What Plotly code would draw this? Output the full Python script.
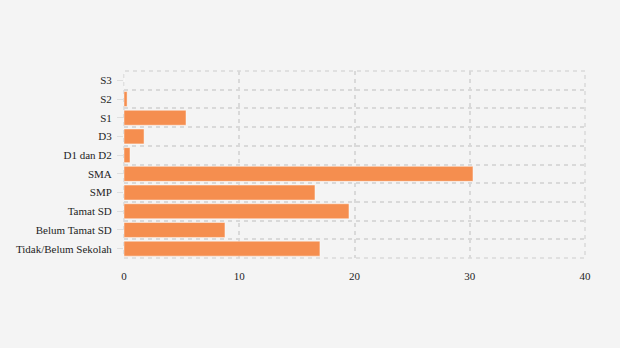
import plotly.graph_objects as go

# Education level categories, listed bottom to top
categories = [
    "Tidak/Belum Sekolah",
    "Belum Tamat SD",
    "Tamat SD",
    "SMP",
    "SMA",
    "D1 dan D2",
    "D3",
    "S1",
    "S2",
    "S3",
]
values = [17.0, 8.76, 19.52, 16.57, 30.28, 0.52, 1.74, 5.38, 0.27, 0.0]
x_ticks = [0, 10, 20, 30, 40]

positions = list(range(len(categories)))
boundaries = [p - 0.5 for p in positions] + [positions[-1] + 0.5]

bar_color = "#f58e4f"
grid_color = "#d9d9d9"
font_family = "Liberation Serif"

fig = go.Figure(
    go.Bar(
        x=values,
        y=positions,
        orientation="h",
        marker=dict(color=bar_color, line=dict(color="rgba(255,255,255,0.45)", width=1)),
        width=0.8,
        hoverinfo="x+text",
        text=categories,
        textposition="none",
    )
)

# dashed frame around the plotting area (edge grid lines)
fig.add_shape(
    type="rect",
    xref="paper",
    yref="paper",
    x0=0,
    x1=1,
    y0=0,
    y1=1,
    line=dict(color=grid_color, width=1.5, dash="4px,4px"),
    layer="below",
)

fig.update_layout(
    width=620,
    height=348,
    margin=dict(l=124, r=35, t=71, b=90),
    paper_bgcolor="#f4f4f4",
    plot_bgcolor="#f4f4f4",
    font=dict(family=font_family, size=11, color="#1e1e1e"),
    showlegend=False,
    xaxis=dict(
        range=[0, 40],
        tickvals=x_ticks,
        ticktext=[str(v) for v in x_ticks],
        showgrid=True,
        gridcolor=grid_color,
        gridwidth=1.5,
        griddash="4px,4px",
        zeroline=False,
        showline=False,
        ticks="outside",
        ticklen=8,
        tickcolor="rgba(0,0,0,0)",
        fixedrange=True,
    ),
    yaxis=dict(
        range=[-0.5, len(categories) - 0.5],
        tickvals=positions,
        ticktext=categories,
        showgrid=False,
        zeroline=False,
        showline=False,
        ticks="outside",
        ticklen=6,
        tickwidth=1,
        tickcolor="#dedede",
        ticklabelstandoff=3,
        minor=dict(
            tickvals=boundaries,
            showgrid=True,
            gridcolor=grid_color,
            gridwidth=1.5,
            griddash="4px,4px",
            ticks="",
        ),
        fixedrange=True,
    ),
)

fig.write_html("out.html")
